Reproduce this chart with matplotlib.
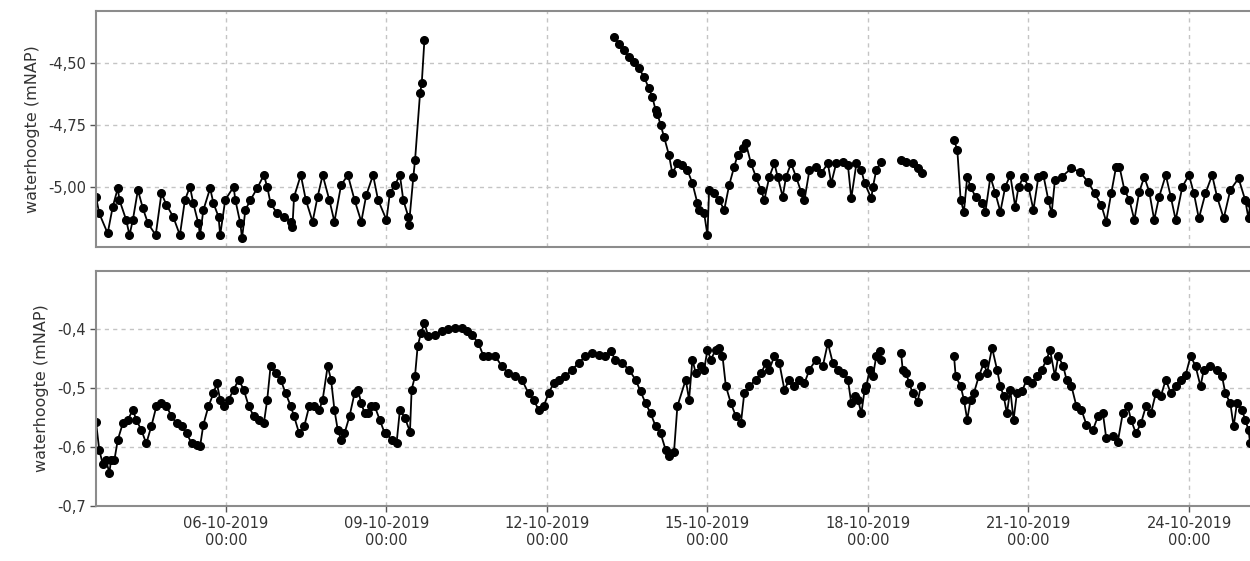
import numpy as np
import pandas as pd
import matplotlib
matplotlib.use("Agg")
import matplotlib.pyplot as plt
import matplotlib.dates as mdates
from matplotlib.ticker import FixedLocator, FuncFormatter

nan = np.nan

# dag = decimale dag in oktober 2019, waarde = waterhoogte in mNAP
boven_dag = [
    3.571, 3.633, 3.790, 3.885, 3.979, 4.010, 4.136, 4.198, 4.261, 4.355,
    4.449, 4.544, 4.688, 4.795, 4.889, 5.014, 5.140, 5.234, 5.328, 5.391,
    5.485, 5.517, 5.579, 5.705, 5.768, 5.862, 5.893, 5.987, 6.144, 6.176,
    6.270, 6.301, 6.364, 6.458, 6.584, 6.709, 6.772, 6.835, 6.960, 7.086,
    7.212, 7.243, 7.274, 7.400, 7.494, 7.620, 7.714, 7.808, 7.933, 8.028,
    8.153, 8.279, 8.404, 8.530, 8.624, 8.750, 8.844, 9.001, 9.064, 9.158,
    9.252, 9.315, 9.409, 9.421, 9.503, 9.535, 9.628, 9.660, 9.710, 9.9,
    13.250, 13.344, 13.438, 13.531, 13.625, 13.719, 13.813, 13.906, 13.969, 14.031,
    14.063, 14.125, 14.188, 14.281, 14.344, 14.438, 14.531, 14.625, 14.719, 14.813,
    14.844, 14.938, 15.000, 15.031, 15.125, 15.219, 15.313, 15.406, 15.500, 15.563,
    15.656, 15.719, 15.813, 15.906, 16.000, 16.063, 16.156, 16.250, 16.313, 16.406,
    16.469, 16.563, 16.656, 16.750, 16.813, 16.906, 17.031, 17.125, 17.250, 17.313,
    17.406, 17.531, 17.625, 17.688, 17.784, 17.876, 17.938, 18.062, 18.093, 18.155,
    18.247, 18.4,
    18.618, 18.711, 18.835, 18.928, 19.008, 19.3,
    19.608, 19.670, 19.732, 19.793, 19.855, 19.917, 20.010, 20.134, 20.195, 20.288,
    20.381, 20.474, 20.566, 20.659, 20.752, 20.814, 20.907, 21.000, 21.092, 21.185,
    21.278, 21.371, 21.432, 21.494, 21.618, 21.803, 21.958, 22.113, 22.236, 22.360,
    22.453, 22.546, 22.638, 22.700, 22.793, 22.886, 22.978, 23.071, 23.164, 23.257,
    23.349, 23.442, 23.566, 23.659, 23.751, 23.875, 23.999, 24.091, 24.184, 24.308,
    24.432, 24.524, 24.648, 24.772, 24.926, 25.050, 25.112, 25.143,
]
boven_waarde = [
    -5.039, -5.106, -5.186, -5.079, -5.005, -5.052, -5.132, -5.193, -5.132, -5.012,
    -5.086, -5.146, -5.193, -5.025, -5.072, -5.119, -5.193, -5.052, -4.999, -5.066,
    -5.146, -5.193, -5.092, -5.005, -5.066, -5.119, -5.193, -5.052, -4.999, -5.052,
    -5.146, -5.206, -5.092, -5.052, -5.005, -4.952, -4.999, -5.066, -5.106, -5.119,
    -5.139, -5.159, -5.039, -4.952, -5.052, -5.139, -5.039, -4.952, -5.052, -5.139,
    -4.992, -4.952, -5.052, -5.139, -5.032, -4.952, -5.052, -5.132, -5.025, -4.992,
    -4.952, -5.052, -5.119, -5.152, -4.959, -4.892, -4.624, -4.584, -4.410, nan,
    -4.397, -4.424, -4.451, -4.477, -4.497, -4.524, -4.557, -4.604, -4.638, -4.691,
    -4.705, -4.751, -4.798, -4.872, -4.945, -4.905, -4.912, -4.932, -4.985, -5.066,
    -5.092, -5.106, -5.193, -5.012, -5.025, -5.052, -5.092, -4.992, -4.918, -4.872,
    -4.845, -4.825, -4.905, -4.959, -5.012, -5.052, -4.959, -4.905, -4.959, -5.039,
    -4.959, -4.905, -4.959, -5.019, -5.052, -4.932, -4.918, -4.945, -4.905, -4.985,
    -4.905, -4.898, -4.912, -5.045, -4.905, -4.932, -4.985, -5.045, -4.999, -4.932,
    -4.898, nan,
    -4.892, -4.898, -4.905, -4.925, -4.943, nan,
    -4.811, -4.852, -5.052, -5.099, -4.959, -4.999, -5.039, -5.066, -5.099, -4.959,
    -5.025, -5.099, -4.999, -4.952, -5.079, -4.999, -4.959, -4.999, -5.092, -4.959,
    -4.952, -5.052, -5.106, -4.972, -4.959, -4.925, -4.939, -4.979, -5.025, -5.072,
    -5.139, -5.025, -4.918, -4.918, -5.012, -5.052, -5.132, -5.019, -4.959, -5.019,
    -5.132, -5.039, -4.952, -5.039, -5.132, -4.999, -4.952, -5.025, -5.126, -5.025,
    -4.952, -5.039, -5.126, -5.012, -4.965, -5.052, -5.126, -5.066,
]

onder_dag = [
    3.571, 3.633, 3.696, 3.759, 3.822, 3.853, 3.916, 3.979, 4.073, 4.167,
    4.261, 4.324, 4.418, 4.512, 4.606, 4.701, 4.795, 4.889, 4.983, 5.077,
    5.171, 5.266, 5.360, 5.454, 5.517, 5.579, 5.674, 5.768, 5.831, 5.893,
    5.956, 6.050, 6.144, 6.239, 6.333, 6.427, 6.521, 6.615, 6.709, 6.772,
    6.835, 6.929, 7.023, 7.117, 7.212, 7.274, 7.369, 7.463, 7.557, 7.651,
    7.745, 7.808, 7.902, 7.965, 8.028, 8.090, 8.153, 8.216, 8.310, 8.404,
    8.467, 8.530, 8.593, 8.655, 8.718, 8.781, 8.875, 8.969, 9.001, 9.095,
    9.189, 9.252, 9.346, 9.440, 9.471, 9.534, 9.584, 9.647, 9.710, 9.781,
    9.906, 10.031, 10.156, 10.281, 10.406, 10.500, 10.594, 10.719, 10.813, 10.906,
    11.031, 11.156, 11.281, 11.406, 11.531, 11.656, 11.750, 11.844, 11.938, 12.031,
    12.125, 12.219, 12.344, 12.469, 12.594, 12.719, 12.844, 12.969, 13.094, 13.188,
    13.281, 13.406, 13.531, 13.656, 13.750, 13.844, 13.938, 14.031, 14.125, 14.219,
    14.281, 14.375, 14.438, 14.594, 14.656, 14.719, 14.781, 14.875, 14.938, 15.000,
    15.063, 15.156, 15.219, 15.281, 15.344, 15.438, 15.531, 15.625, 15.688, 15.781,
    15.906, 16.000, 16.094, 16.156, 16.250, 16.344, 16.438, 16.531, 16.625, 16.719,
    16.813, 16.906, 17.031, 17.156, 17.250, 17.344, 17.438, 17.531, 17.625, 17.688,
    17.753, 17.814, 17.876, 17.938, 17.969, 18.031, 18.093, 18.155, 18.216, 18.247,
    18.4,
    18.618, 18.649, 18.711, 18.773, 18.835, 18.928, 18.989, 19.3,
    19.608, 19.639, 19.732, 19.793, 19.855, 19.917, 19.979, 20.072, 20.165, 20.226,
    20.319, 20.412, 20.474, 20.536, 20.597, 20.659, 20.721, 20.783, 20.876, 20.968,
    21.061, 21.154, 21.247, 21.340, 21.401, 21.494, 21.556, 21.649, 21.711, 21.803,
    21.896, 21.989, 22.082, 22.205, 22.298, 22.391, 22.453, 22.576, 22.669, 22.762,
    22.855, 22.916, 23.009, 23.102, 23.195, 23.288, 23.380, 23.473, 23.566, 23.659,
    23.751, 23.844, 23.937, 24.030, 24.122, 24.215, 24.277, 24.401, 24.524, 24.617,
    24.679, 24.772, 24.834, 24.896, 24.988, 25.050, 25.112, 25.143,
]
onder_waarde = [
    -0.557, -0.605, -0.628, -0.622, -0.644, -0.622, -0.622, -0.588, -0.560, -0.554,
    -0.537, -0.554, -0.571, -0.594, -0.565, -0.531, -0.526, -0.531, -0.548, -0.560,
    -0.565, -0.577, -0.594, -0.596, -0.599, -0.562, -0.531, -0.509, -0.492, -0.520,
    -0.531, -0.520, -0.503, -0.486, -0.503, -0.531, -0.548, -0.554, -0.560, -0.520,
    -0.463, -0.475, -0.486, -0.509, -0.531, -0.548, -0.577, -0.565, -0.531, -0.531,
    -0.537, -0.520, -0.463, -0.486, -0.537, -0.571, -0.588, -0.577, -0.548, -0.509,
    -0.503, -0.526, -0.543, -0.543, -0.531, -0.531, -0.554, -0.577, -0.577, -0.588,
    -0.594, -0.537, -0.551, -0.574, -0.503, -0.480, -0.429, -0.407, -0.390, -0.412,
    -0.410, -0.404, -0.401, -0.398, -0.398, -0.404, -0.410, -0.424, -0.446, -0.446,
    -0.446, -0.463, -0.475, -0.480, -0.486, -0.509, -0.520, -0.537, -0.531, -0.509,
    -0.492, -0.486, -0.480, -0.469, -0.458, -0.446, -0.441, -0.444, -0.446, -0.438,
    -0.452, -0.458, -0.469, -0.486, -0.506, -0.526, -0.543, -0.565, -0.577, -0.605,
    -0.616, -0.608, -0.531, -0.486, -0.520, -0.452, -0.475, -0.463, -0.469, -0.435,
    -0.452, -0.435, -0.432, -0.446, -0.497, -0.526, -0.548, -0.560, -0.509, -0.497,
    -0.486, -0.475, -0.458, -0.469, -0.446, -0.458, -0.503, -0.486, -0.497, -0.486,
    -0.492, -0.469, -0.452, -0.463, -0.424, -0.458, -0.469, -0.475, -0.486, -0.526,
    -0.514, -0.520, -0.543, -0.503, -0.497, -0.469, -0.480, -0.446, -0.438, -0.452,
    nan,
    -0.441, -0.469, -0.475, -0.492, -0.509, -0.523, -0.497, nan,
    -0.446, -0.480, -0.497, -0.520, -0.554, -0.520, -0.509, -0.480, -0.458, -0.475,
    -0.432, -0.469, -0.497, -0.514, -0.543, -0.503, -0.554, -0.509, -0.506, -0.486,
    -0.492, -0.480, -0.469, -0.452, -0.435, -0.480, -0.446, -0.463, -0.486, -0.497,
    -0.531, -0.537, -0.562, -0.571, -0.548, -0.543, -0.585, -0.582, -0.591, -0.543,
    -0.531, -0.554, -0.577, -0.560, -0.531, -0.543, -0.509, -0.514, -0.486, -0.509,
    -0.497, -0.486, -0.478, -0.446, -0.463, -0.497, -0.469, -0.463, -0.469, -0.480,
    -0.509, -0.526, -0.565, -0.526, -0.537, -0.554, -0.571, -0.594,
]

tick_dagen = [6, 9, 12, 15, 18, 21, 24]


def naar_tijd(dagen):
    return pd.Timestamp("2019-10-01") + pd.to_timedelta(np.array(dagen) - 1, unit="D")


def opmaak(ax, yticks, fmt):
    for s in ax.spines.values():
        s.set_color("#8c8c8c")
        s.set_linewidth(1.5)
    ax.grid(True, color="#c4c4c4", linestyle=(0, (3, 3)), linewidth=1.0)
    ax.set_axisbelow(True)
    ax.yaxis.set_major_locator(FixedLocator(yticks))
    ax.yaxis.set_major_formatter(FuncFormatter(lambda v, p: fmt.format(v).replace(".", ",")))
    ax.xaxis.set_major_locator(mdates.DayLocator(bymonthday=tick_dagen))
    ax.set_xlim(naar_tijd([3.565])[0], naar_tijd([25.21])[0])
    ax.tick_params(axis="both", length=4, width=1, color="#555555", labelsize=10.5,
                   labelcolor="#333333", pad=3)
    ax.set_ylabel("waterhoogte (mNAP)", fontsize=11.5, color="#333333", labelpad=6)


fig = plt.figure(figsize=(12.5, 5.61), dpi=100)
ax1 = fig.add_axes([0.0765, 0.5605, 0.9265, 0.4195])
ax2 = fig.add_axes([0.0765, 0.0980, 0.9265, 0.4189])

ax1.plot(naar_tijd(boven_dag), boven_waarde, color="black", linewidth=1.3,
         marker="o", markersize=5.5)
ax2.plot(naar_tijd(onder_dag), onder_waarde, color="black", linewidth=1.3,
         marker="o", markersize=5.5)

opmaak(ax1, [-4.5, -4.75, -5.0], "{:.2f}")
ax1.set_ylim(-5.239, -4.294)
ax1.tick_params(axis="x", length=0, labelbottom=False)

opmaak(ax2, [-0.4, -0.5, -0.6, -0.7], "{:.1f}")
ax2.set_ylim(-0.7, -0.302)
ax2.xaxis.set_major_formatter(mdates.DateFormatter("%d-%m-%Y\n%H:%M"))
for lbl in ax2.get_xticklabels():
    lbl.set_horizontalalignment("center")

fig.align_ylabels([ax1, ax2])
fig.savefig("out.png", dpi=100)
